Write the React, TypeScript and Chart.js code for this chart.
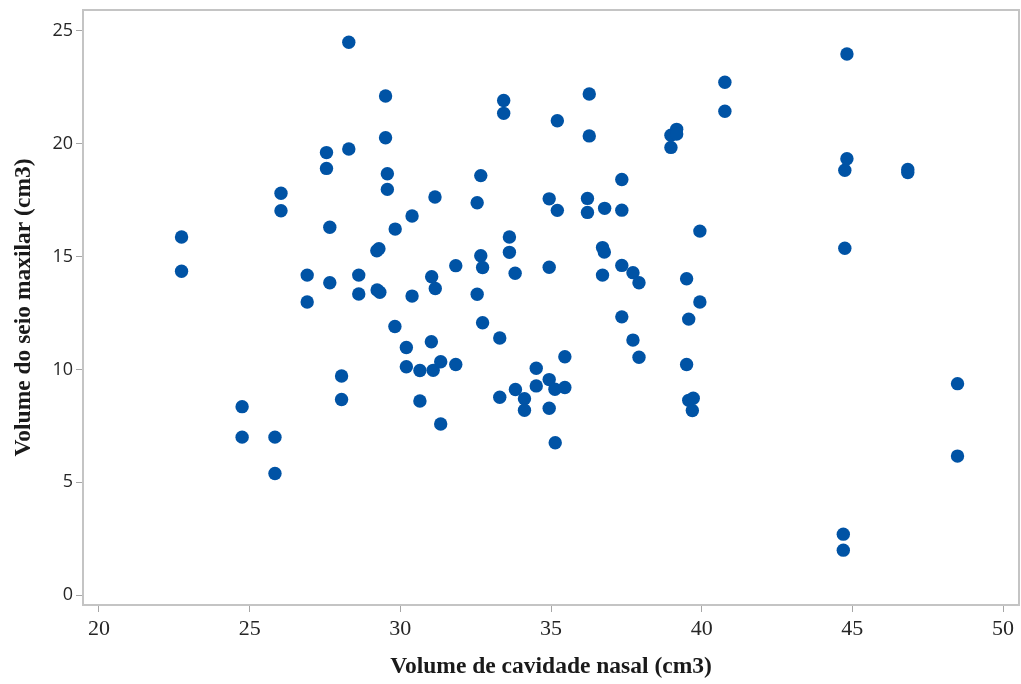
import React, { useEffect, useRef } from "react";
import { Chart, registerables } from "chart.js";

Chart.register(...registerables);

const nasalVolume: number[] = [
  22.74, 22.74, 24.75, 24.75, 25.84, 25.84, 26.04, 26.04, 26.91, 26.91,
  27.55, 27.55, 27.66, 27.66, 28.05, 28.05, 28.29, 28.29, 28.62, 28.62,
  29.29, 29.22, 29.23, 29.32, 29.51, 29.51, 29.57, 29.57, 29.83, 29.82,
  30.2, 30.2, 30.39, 30.39, 30.65, 30.65, 31.03, 31.04, 31.09, 31.15,
  31.16, 31.34, 31.34, 31.84, 31.84, 32.55, 32.55, 32.67, 32.67, 32.73,
  32.73, 33.3, 33.3, 33.43, 33.43, 33.62, 33.62, 33.81, 33.82, 34.12,
  34.12, 34.51, 34.51, 34.94, 34.94, 34.94, 34.94, 35.13, 35.14, 35.21,
  35.21, 35.46, 35.46, 36.27, 36.27, 36.21, 36.21, 36.71, 36.77, 36.71,
  36.78, 37.35, 37.35, 37.35, 37.35, 37.72, 37.72, 37.92, 37.92, 38.98,
  38.98, 39.17, 39.17, 39.5, 39.5, 39.57, 39.57, 39.69, 39.72, 39.94,
  39.94, 40.77, 40.77, 44.7, 44.7, 44.75, 44.75, 44.82, 44.82, 46.84,
  46.84, 48.49, 48.49,
];

const sinusVolume: number[] = [
  15.87, 14.35, 8.35, 7.0, 7.0, 5.39, 17.81, 17.03, 14.18, 12.99,
  19.61, 18.91, 16.3, 13.84, 9.71, 8.67, 24.5, 19.77, 14.18, 13.34,
  15.35, 15.26, 13.52, 13.42, 22.12, 20.27, 18.67, 17.98, 16.22, 11.9,
  10.97, 10.12, 16.8, 13.25, 9.95, 8.6, 11.23, 14.11, 9.96, 17.64,
  13.59, 10.34, 7.58, 14.6, 10.22, 17.39, 13.33, 18.59, 15.04, 14.52,
  12.07, 8.77, 11.39, 21.92, 21.35, 15.87, 15.19, 14.26, 9.11, 8.7,
  8.19, 10.05, 9.27, 17.56, 14.53, 9.55, 8.28, 9.12, 6.75, 21.02,
  17.05, 10.56, 9.2, 22.21, 20.35, 17.58, 16.96, 15.4, 15.2, 14.18,
  17.14, 18.42, 17.06, 14.61, 12.33, 14.29, 11.3, 13.84, 10.54, 19.84,
  20.38, 20.64, 20.43, 14.02, 10.22, 12.23, 8.63, 8.18, 8.72, 16.13,
  12.99, 22.73, 21.44, 2.7, 1.99, 15.37, 18.83, 19.34, 23.98, 18.86,
  18.73, 9.37, 6.16,
];

const xTicks: number[] = [20, 25, 30, 35, 40, 45, 50];
const yTicks: number[] = [0, 5, 10, 15, 20, 25];

const xTitle = "Volume de cavidade nasal (cm3)";
const yTitle = "Volume do seio maxilar (cm3)";

const framePlugin = {
  id: "frame",
  beforeDatasetsDraw(chart: any) {
    const { ctx, chartArea } = chart;
    ctx.save();
    ctx.strokeStyle = "#c4c4c4";
    ctx.lineWidth = 2;
    ctx.strokeRect(
      chartArea.left,
      chartArea.top,
      chartArea.right - chartArea.left,
      chartArea.bottom - chartArea.top
    );
    ctx.restore();
  },
};

export default function App() {
  const canvasRef = useRef<HTMLCanvasElement | null>(null);

  useEffect(() => {
    if (!canvasRef.current) return;
    const points = nasalVolume.map((x, i) => ({ x, y: sinusVolume[i] }));
    const chart = new Chart(canvasRef.current, {
      type: "scatter",
      data: {
        datasets: [
          {
            data: points,
            backgroundColor: "#0053a5",
            borderWidth: 0,
            pointRadius: 6.7,
            pointHoverRadius: 6.7,
          },
        ],
      },
      options: {
        animation: false,
        responsive: false,
        events: [],
        layout: { autoPadding: false, padding: { top: 10, right: 2, left: 0, bottom: 0 } },
        plugins: {
          legend: { display: false },
          tooltip: { enabled: false },
        },
        scales: {
          x: {
            type: "linear",
            min: 19.47,
            max: 50.53,
            afterBuildTicks: (scale: any) => {
              scale.ticks = xTicks.map((v) => ({ value: v }));
            },
            afterFit: (scale: any) => {
              scale.height = 79;
              scale.paddingLeft = 0;
              scale.paddingRight = 0;
            },
            border: { display: false },
            grid: {
              drawOnChartArea: false,
              drawTicks: true,
              tickLength: 7,
              color: "#a6a6a6",
              lineWidth: 1,
            },
            ticks: {
              padding: 4,
              color: "#262626",
              font: { family: "'Liberation Serif', serif", size: 22 },
              maxRotation: 0,
            },
            title: {
              display: true,
              text: xTitle,
              color: "#1a1a1a",
              font: { family: "'Liberation Serif', serif", size: 23.5, weight: "bold" },
              padding: { top: 0, bottom: 3 },
            },
          },
          y: {
            type: "linear",
            min: -0.44,
            max: 25.93,
            afterBuildTicks: (scale: any) => {
              scale.ticks = yTicks.map((v) => ({ value: v }));
            },
            afterFit: (scale: any) => {
              scale.width = 83;
              scale.paddingTop = 0;
              scale.paddingBottom = 0;
            },
            border: { display: false },
            grid: {
              drawOnChartArea: false,
              drawTicks: true,
              tickLength: 7,
              color: "#a6a6a6",
              lineWidth: 1,
            },
            ticks: {
              padding: 3,
              color: "#262626",
              font: { family: "'Open Sans', sans-serif", size: 18 },
            },
            title: {
              display: true,
              text: yTitle,
              color: "#1a1a1a",
              font: { family: "'Liberation Serif', serif", size: 23.5, weight: "bold" },
              padding: { top: 10, bottom: 0 },
            },
          },
        },
      },
      plugins: [framePlugin],
    });
    return () => chart.destroy();
  }, []);

  return (
    <div
      style={{
        position: "absolute",
        left: 0,
        top: 0,
        width: 1021,
        height: 684,
        background: "#ffffff",
      }}
    >
      <canvas ref={canvasRef} width={1021} height={684} />
    </div>
  );
}
